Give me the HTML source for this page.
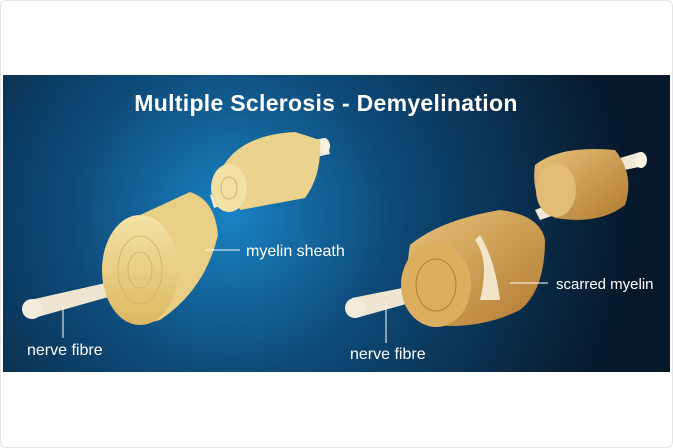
<!DOCTYPE html><html><head><style>body{margin:0;width:673px;height:448px;background:#fff;overflow:hidden}svg{display:block}</style></head><body>
<svg width="673" height="448" viewBox="0 0 673 448" font-family="Liberation Sans, sans-serif">
<defs>
<radialGradient id="bg" cx="230" cy="215" r="400" gradientUnits="userSpaceOnUse"><stop offset="0" stop-color="#1a82c2"/><stop offset="0.4" stop-color="#0e4a78"/><stop offset="1" stop-color="#07182a"/></radialGradient>
<linearGradient id="my" x1="0" y1="0" x2="0" y2="1"><stop offset="0" stop-color="#f4e3a6"/><stop offset="1" stop-color="#dcb862"/></linearGradient>
<linearGradient id="sc" x1="0" y1="0" x2="1" y2="1"><stop offset="0" stop-color="#e8c27a"/><stop offset="1" stop-color="#b07a30"/></linearGradient>
</defs>
<rect x="0.5" y="0.5" width="672" height="447" rx="6" fill="#fff" stroke="#e4e4e4"/>
<rect x="3" y="75" width="667" height="297" fill="url(#bg)"/>
<text x="326" y="111" text-anchor="middle" fill="#fff" font-size="23" font-weight="bold" letter-spacing="0.3">Multiple Sclerosis - Demyelination</text>
<!-- left -->
<path d="M30 300 L110 282 L112 296 L34 318 Z" fill="#eee6d2"/>
<ellipse cx="32" cy="309" rx="10" ry="10" fill="#f2ecdc"/>
<path d="M210 195 L232 188 L236 200 L214 208 Z" fill="#efe8d6"/>
<path d="M312 140 L326 138 L330 154 L316 157 Z" fill="#efe8d6"/>
<ellipse cx="324" cy="146" rx="6" ry="8" fill="#f7f1e2"/>
<path d="M140 215 L190 192 Q215 200 218 235 Q205 290 160 320 L140 325 Z" fill="#e8cf85"/>
<ellipse cx="140" cy="270" rx="38" ry="55" fill="url(#my)"/>
<ellipse cx="140" cy="270" rx="22" ry="34" fill="none" stroke="#d6b56a"/>
<ellipse cx="140" cy="270" rx="12" ry="18" fill="none" stroke="#d6b56a"/>
<path d="M222 168 Q240 135 295 132 L320 140 Q322 175 305 198 L240 210 Z" fill="#ebd38d"/>
<ellipse cx="229" cy="188" rx="18" ry="24" fill="#f2e0a4"/>
<ellipse cx="229" cy="188" rx="8" ry="11" fill="none" stroke="#d6b56a"/>
<line x1="205" y1="250" x2="240" y2="250" stroke="#fff"/>
<text x="246" y="256" fill="#fff" font-size="16">myelin sheath</text>
<line x1="63" y1="305" x2="63" y2="338" stroke="#fff"/>
<text x="27" y="355" fill="#fff" font-size="16">nerve fibre</text>
<!-- right -->
<path d="M352 298 L432 282 L435 296 L356 318 Z" fill="#eee6d2"/>
<ellipse cx="355" cy="308" rx="10" ry="10" fill="#f2ecdc"/>
<path d="M535 210 L560 200 L563 212 L540 220 Z" fill="#efe8d6"/>
<path d="M620 158 L640 152 L644 166 L624 170 Z" fill="#efe8d6"/>
<ellipse cx="641" cy="160" rx="6" ry="8" fill="#f7f1e2"/>
<path d="M410 245 Q440 220 500 210 Q540 215 545 240 Q545 290 520 310 Q480 330 430 325 Q400 300 410 245 Z" fill="url(#sc)"/>
<ellipse cx="436" cy="285" rx="35" ry="42" fill="#dcae60"/>
<ellipse cx="436" cy="285" rx="20" ry="26" fill="none" stroke="#b07a30"/>
<path d="M475 240 Q490 260 480 300 L500 300 Q495 260 480 235 Z" fill="#f3e6c8"/>
<path d="M535 165 Q560 145 615 150 Q635 175 625 205 Q600 225 555 218 Q530 200 535 165 Z" fill="url(#sc)"/>
<ellipse cx="556" cy="190" rx="20" ry="27" fill="#e2bc74"/>
<line x1="510" y1="283" x2="548" y2="283" stroke="#fff"/>
<text x="556" y="289" fill="#fff" font-size="15">scarred myelin</text>
<line x1="386" y1="302" x2="386" y2="343" stroke="#fff"/>
<text x="350" y="359" fill="#fff" font-size="16">nerve fibre</text>
</svg></body></html>
